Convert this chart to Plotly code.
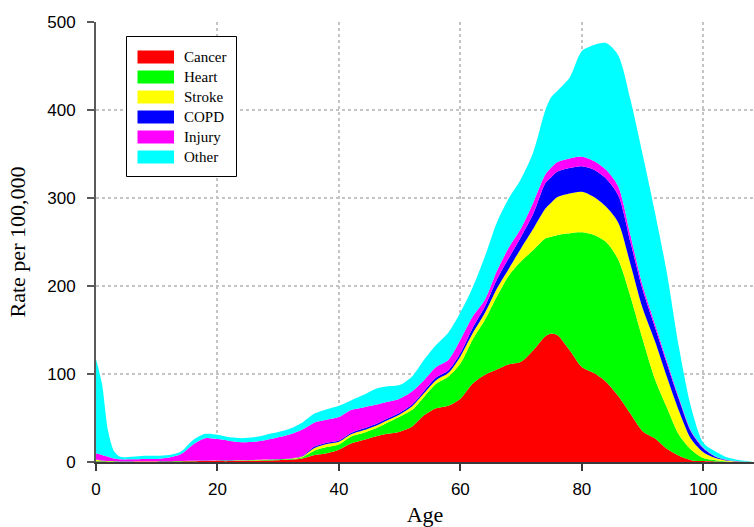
import plotly.graph_objects as go

ages = [0, 1, 2, 3, 4, 6, 8, 10, 12, 14, 16, 18, 20, 22, 24, 26, 28, 30, 32, 34,
        36, 38, 40, 42, 44, 46, 48, 50, 52, 54, 56, 58, 60, 62, 64, 66, 68, 70,
        72, 74, 75, 76, 78, 80, 82, 84, 86, 88, 90, 92, 94, 96, 98, 100, 102,
        104, 106, 108]

cancer = [0.5, 0.5, 0.4, 0.4, 0.4, 0.4, 0.5, 0.5, 0.6, 0.7, 0.8, 1.0, 1.0, 1.0,
          1.2, 1.4, 1.6, 2.0, 2.5, 4, 8, 10, 14, 21, 25, 29, 32, 34.5, 40, 53,
          61, 64, 72, 89, 99, 105, 111, 114, 127, 143, 146, 144, 127, 108, 101,
          91, 75, 55, 35, 27, 15, 7, 2, 1, 0.5, 0.2, 0.1, 0]
heart = [1.0, 0.5, 0.4, 0.3, 0.2, 0.2, 0.2, 0.2, 0.2, 0.3, 0.4, 0.4, 0.5, 0.6,
         0.6, 0.6, 0.8, 0.8, 0.8, 1.5, 5, 7, 6, 8, 8, 9, 13, 17, 19, 21, 28,
         33, 40, 50, 62, 83, 101, 114, 114, 111, 110, 114, 133, 153, 157, 159,
         155, 133, 105, 68, 47, 24, 12, 3.5, 1.5, 0.5, 0.2, 0.1]
stroke = [1.0, 0.5, 0.2, 0.2, 0.1, 0.1, 0.1, 0.1, 0.1, 0.1, 0.1, 0.1, 0.2, 0.2,
          0.2, 0.3, 0.3, 0.3, 0.4, 1.0, 3, 3.5, 3, 2.5, 3, 3, 2.5, 2.5, 4, 4,
          4, 4, 8, 7, 8, 9, 8, 15, 24, 34, 39, 43, 45, 46, 43, 40, 42, 37, 35,
          43, 35, 27, 12, 6.5, 2.5, 0.8, 0.3, 0.1]
copd = [0.3, 0.2, 0.1, 0.1, 0.1, 0.1, 0.1, 0.1, 0.1, 0.1, 0.1, 0.1, 0.1, 0.1,
        0.1, 0.1, 0.1, 0.2, 0.3, 0.5, 1.5, 1.5, 1.5, 1.5, 2, 2, 2, 2, 2, 2.5,
        3, 3, 3.5, 6, 7, 10, 12, 13, 17, 29, 29, 29, 29, 29, 31, 32, 31, 25,
        21, 16, 15, 13, 8, 4.5, 1.5, 0.5, 0.2, 0.1]
injury = [7.2, 6.3, 4.9, 3.0, 2.2, 2.2, 2.6, 2.6, 4.0, 7.8, 18.6, 25.4, 24.2,
          22.1, 20.4, 20.6, 22.2, 24.7, 27.5, 30, 27.5, 26, 26.5, 26, 24, 22,
          19, 16, 15, 12.5, 12, 12, 15.5, 13, 8, 10, 12, 10, 13, 10, 11, 11,
          11, 11, 10, 10, 10, 8, 5, 4, 3, 2, 1.5, 1, 0.5, 0.3, 0.1, 0]
other = [107, 80, 29, 8, 3, 3, 3.5, 3.5, 3, 3, 5, 5, 5, 4, 4.5, 5, 6, 6, 6.5,
         8, 10, 12, 13, 11, 14, 18, 17.5, 15.5, 17, 23, 25, 31, 31, 33, 49, 55,
         56, 56, 57, 73, 80, 81, 92, 120, 132, 144, 149, 154, 149, 127, 100,
         57, 26.5, 5.5, 5.5, 2.7, 1.1, 0.2]

names = ["Cancer", "Heart", "Stroke", "COPD", "Injury", "Other"]
series = [cancer, heart, stroke, copd, injury, other]
colors = ["#ff0000", "#00ff00", "#ffff00", "#0000ff", "#ff00ff", "#00ffff"]

fig = go.Figure()
for name, vals, col in zip(names, series, colors):
    fig.add_trace(go.Scatter(
        x=ages, y=vals, name=name, mode="lines", stackgroup="one",
        line=dict(width=0, color=col, shape="spline", smoothing=0.8),
        fillcolor=col, showlegend=False, hoverinfo="x+y+name"))

# custom legend (box, swatches, labels)
lx0, lx1, ly0, ly1 = 126.5, 236.5, 36.5, 176.5
W, H = 754, 527
ml, mr, mt, mb = 96, 0, 22, 65
pw, ph = W - ml - mr, H - mt - mb


def px2paper(x, y):
    return (x - ml) / pw, 1 - (y - mt) / ph


shapes = []
annotations = []
bx0, by0 = px2paper(lx0, ly0)
bx1, by1 = px2paper(lx1, ly1)
shapes.append(dict(type="rect", xref="paper", yref="paper", x0=bx0, y0=by1,
                   x1=bx1, y1=by0, line=dict(color="black", width=1),
                   fillcolor="white", layer="above"))
for i, (name, col) in enumerate(zip(names, colors)):
    cy = 57 + 20 * i
    sx0, sy0 = px2paper(137.5, cy - 6.5)
    sx1, sy1 = px2paper(174, cy + 6.5)
    shapes.append(dict(type="rect", xref="paper", yref="paper", x0=sx0, y0=sy1,
                       x1=sx1, y1=sy0, line=dict(width=0), fillcolor=col,
                       layer="above"))
    tx, ty = px2paper(181.5, cy)
    annotations.append(dict(xref="paper", yref="paper", x=tx, y=ty, text=name,
                            showarrow=False, xanchor="left", yanchor="middle",
                            font=dict(family="Liberation Serif", size=15,
                                      color="black")))

fig.update_layout(
    width=W, height=H,
    margin=dict(l=ml, r=mr, t=mt, b=mb),
    paper_bgcolor="white", plot_bgcolor="white",
    shapes=shapes, annotations=annotations,
    font=dict(family="Liberation Sans", size=16, color="black"),
    xaxis=dict(
        range=[0, 108.35], tickvals=[0, 20, 40, 60, 80, 100],
        showgrid=True, gridcolor="#c4c4c4", griddash="dot", gridwidth=1.5,
        zeroline=False, showline=True, linecolor="#3a3a3a", linewidth=1.5,
        ticks="outside", ticklen=7, tickcolor="#3a3a3a", tickwidth=1.5,
        tickfont=dict(family="Liberation Sans", size=17, color="black"),
        ticklabelstandoff=4,
        title=dict(text="Age", standoff=8,
                   font=dict(family="Liberation Serif", size=22,
                             color="black")),
    ),
    yaxis=dict(
        range=[0, 500], tickvals=[0, 100, 200, 300, 400, 500],
        showgrid=True, gridcolor="#c4c4c4", griddash="dot", gridwidth=1.5,
        zeroline=False, showline=True, linecolor="#5a5a5a", linewidth=2,
        ticks="outside", ticklen=7, tickcolor="#5a5a5a", tickwidth=1.5,
        tickfont=dict(family="Liberation Sans", size=17, color="black"),
        ticklabelstandoff=8,
        title=dict(text="Rate per 100,000", standoff=16,
                   font=dict(family="Liberation Serif", size=22,
                             color="black")),
    ),
)

fig.write_html("out.html")
